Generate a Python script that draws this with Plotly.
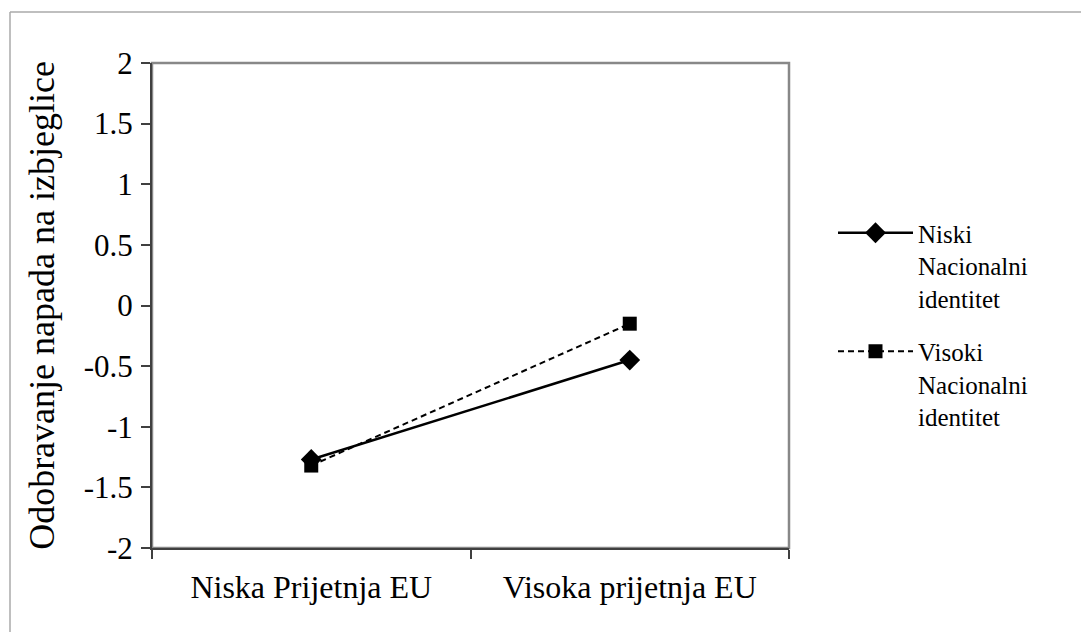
import plotly.graph_objects as go

categories = ["Niska Prijetnja EU", "Visoka prijetnja EU"]
niski = [-1.27, -0.45]
visoki = [-1.32, -0.15]
series_names = ["Niski<br>Nacionalni<br>identitet", "Visoki<br>Nacionalni<br>identitet"]
y_tickvals = [2, 1.5, 1, 0.5, 0, -0.5, -1, -1.5, -2]
y_ticktext = ["2", "1.5", "1", "0.5", "0", "-0.5", "-1", "-1.5", "-2"]
y_title = "Odobravanje napada na izbjeglice"

W, H = 1081, 632
L, R, T, B = 152, 789, 63, 548  # plot area pixel bounds
FONT = "Liberation Serif, Times New Roman, serif"

fig = go.Figure()
fig.add_trace(go.Scatter(
    x=categories, y=niski, name=series_names[0], mode="lines+markers",
    legendgroup="a",
    line=dict(color="black", width=2.5, dash="solid"),
    marker=dict(symbol="diamond", size=16, color="black"),
))
fig.add_trace(go.Scatter(
    x=categories, y=visoki, name=series_names[1], mode="lines+markers",
    legendgroup="b",
    line=dict(color="black", width=2, dash="6px,4px"),
    marker=dict(symbol="square", size=14, color="black"),
))

pw, ph = R - L, B - T
def px(x):
    return (x - L) / pw
def py(y):
    return (B - y) / ph

fig.update_layout(
    width=W, height=H,
    margin=dict(l=L, r=W - R, t=T, b=H - B, autoexpand=False),
    paper_bgcolor="white", plot_bgcolor="white",
    font=dict(family=FONT, size=31, color="black"),
    showlegend=True,
    legend=dict(x=px(833), y=py(210), xanchor="left", yanchor="top",
                valign="top", font=dict(size=25), itemwidth=75,
                traceorder="grouped", tracegroupgap=18,
                bgcolor="rgba(0,0,0,0)"),
    xaxis=dict(
        type="category", range=[-0.5, 1.5], showline=True, linecolor="#404040",
        linewidth=2, ticks="outside", ticklen=9, tickcolor="#404040", tickwidth=1.5,
        tickson="boundaries", showgrid=False, zeroline=False,
        tickfont=dict(size=32), ticklabelstandoff=10,
    ),
    yaxis=dict(
        range=[-2, 2], showline=True, linecolor="#404040", linewidth=2,
        ticks="outside", ticklen=9, tickcolor="#404040", tickwidth=1.5,
        tickvals=y_tickvals, ticktext=y_ticktext, showgrid=False, zeroline=False,
        tickfont=dict(size=31), ticklabelstandoff=2,
        title=dict(text=y_title, font=dict(size=36), standoff=18),
    ),
    shapes=[
        dict(type="rect", xref="paper", yref="paper", x0=0, x1=1, y0=0, y1=1,
             line=dict(color="#888888", width=2.5), layer="below"),
        dict(type="line", xref="paper", yref="paper", x0=px(10), x1=px(1085),
             y0=py(12), y1=py(12), line=dict(color="#aaaaaa", width=1.5)),
        dict(type="line", xref="paper", yref="paper", x0=px(10), x1=px(10),
             y0=py(12), y1=py(640), line=dict(color="#aaaaaa", width=1.5)),
    ],
)

fig.write_html("out.html", config={"displayModeBar": False},
               post_script="document.body.style.margin='0';document.body.style.overflow='hidden';")
